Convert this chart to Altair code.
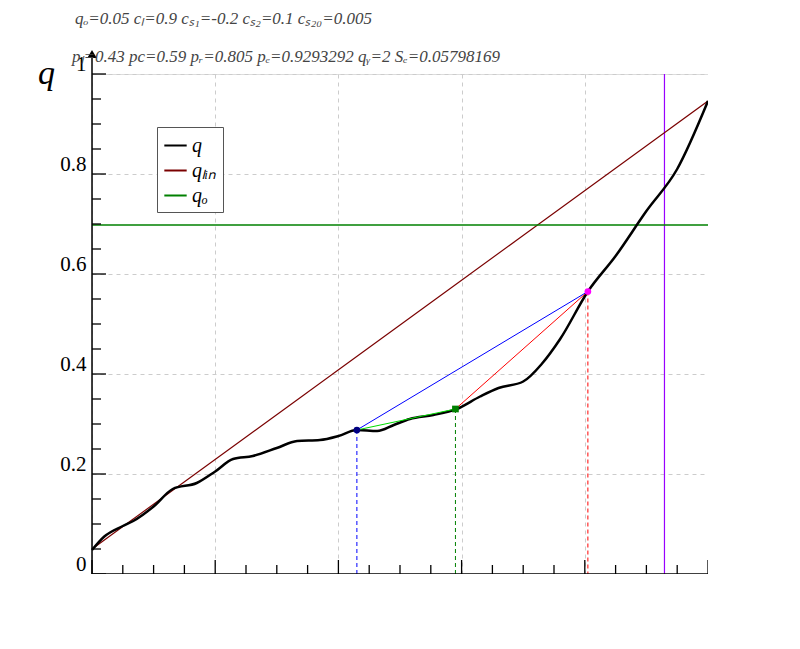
import pandas as pd
import altair as alt

FONT = "Liberation Serif"

# black curve q(p)
p_vals = [0.0, 0.02, 0.05, 0.067, 0.1, 0.131, 0.17, 0.2, 0.229, 0.261, 0.3, 0.333, 0.37,
          0.4, 0.43, 0.463, 0.49, 0.516, 0.554, 0.592, 0.63, 0.66, 0.7, 0.73, 0.76,
          0.805, 0.85, 0.9, 0.95, 1.0]
q_vals = [0.048, 0.075, 0.096, 0.106, 0.135, 0.17, 0.182, 0.205, 0.23, 0.236, 0.252, 0.266, 0.268,
          0.276, 0.288, 0.286, 0.298, 0.31, 0.318, 0.33, 0.355, 0.372, 0.385, 0.42, 0.47,
          0.565, 0.636, 0.726, 0.81, 0.946]

q_lin = [0.05, 0.946]
q_o = 0.698
pl, pc, pr, pe = 0.43, 0.59, 0.805, 0.9293292
ql, qc, qr = 0.288, 0.33, 0.565

major_ticks = [0, 0.2, 0.4, 0.6, 0.8, 1.0]
minor_ticks = [i * 0.05 for i in range(21) if i % 4 != 0]

line1 = "qₒ=0.05 cₗ=0.9 cₛ₁=-0.2 cₛ₂=0.1 cₛ₂₀=0.005"
line2 = "pₗ=0.43 pc=0.59 pᵣ=0.805 pₑ=0.9293292 qᵧ=2 Sₑ=0.05798169"

W, H = 616, 500
xs = alt.Scale(domain=[0, 1], nice=False)
ys = alt.Scale(domain=[0, 1], nice=False)
names = ["q", "qₗᵢₙ", "qₒ"]
cs = alt.Scale(domain=names, range=["black", "#7a0000", "green"])

curve = pd.DataFrame({"p": p_vals, "q": q_vals, "s": "q"})
lin = pd.DataFrame({"p": [0, 1], "q": q_lin, "s": names[1]})
qo = pd.DataFrame({"p": [0, 1], "q": [q_o, q_o], "s": names[2]})

base = alt.Chart(pd.DataFrame({"p": [0]}))

xaxis = alt.Axis(values=major_ticks, format="~g", grid=True, gridDash=[4, 4], gridColor="#ccc",
                 ticks=False, domain=False, labelFont=FONT, labelFontSize=21, labelPadding=2)
yaxis = alt.Axis(values=major_ticks, format="~g", grid=True, gridDash=[4, 4], gridColor="#ccc",
                 ticks=False, domain=False, labelFont=FONT, labelFontSize=21, labelPadding=6,
                 labelBaseline="bottom")

grid = alt.Chart(curve).mark_point(opacity=0).encode(
    x=alt.X("p:Q", scale=xs, axis=xaxis, title=None),
    y=alt.Y("q:Q", scale=ys, axis=yaxis, title=None))

leg = alt.Legend(title=None, orient="none", legendX=65, legendY=53, symbolType="stroke",
                 symbolSize=500, symbolStrokeWidth=2, labelFont=FONT, labelFontSize=20,
                 labelFontStyle="italic", strokeColor="#555", padding=6, fillColor="white",
                 rowPadding=2)

lines = alt.layer(
    alt.Chart(lin).mark_line(strokeWidth=1.2),
    alt.Chart(qo).mark_line(strokeWidth=1.5),
    alt.Chart(curve).mark_line(strokeWidth=2.5, interpolate="monotone"),
).encode(x=alt.X("p:Q", scale=xs), y=alt.Y("q:Q", scale=ys),
         color=alt.Color("s:N", scale=cs, legend=leg))

def seg(p1, q1, p2, q2, color):
    return alt.Chart(pd.DataFrame({"p": [p1, p2], "q": [q1, q2]})).mark_line(
        color=color, strokeWidth=1).encode(x=alt.X("p:Q", scale=xs), y=alt.Y("q:Q", scale=ys))

chords = seg(pl, ql, pr, qr, "blue") + seg(pl, ql, pc, qc, "#00dd00") + seg(pc, qc, pr, qr, "red")

drops = alt.Chart(pd.DataFrame({"p": [pl, pc, pr], "q": [ql, qc, qr],
                                "c": ["blue", "green", "red"]})).mark_rule(
    strokeDash=[4, 3], strokeWidth=1).encode(
    x=alt.X("p:Q", scale=xs), y=alt.Y("q:Q", scale=ys), y2=alt.datum(0),
    color=alt.Color("c:N", scale=None))

dots = alt.Chart(pd.DataFrame({"p": [pl, pc, pr], "q": [ql, qc, qr],
                               "c": ["#000080", "green", "magenta"],
                               "sh": ["circle", "square", "circle"]})).mark_point(
    filled=True, size=45, opacity=1).encode(
    x=alt.X("p:Q", scale=xs), y=alt.Y("q:Q", scale=ys),
    color=alt.Color("c:N", scale=None), shape=alt.Shape("sh:N", scale=None))

pe_line = alt.Chart(pd.DataFrame({"p": [pe]})).mark_rule(color="#9900ff", strokeWidth=1.2).encode(
    x=alt.X("p:Q", scale=xs), y=alt.value(0), y2=alt.value(532))

def ticks(vals, length):
    d = pd.DataFrame({"t": vals})
    xt = alt.Chart(d).mark_rule(color="black", strokeWidth=1.3).encode(
        x=alt.X("t:Q", scale=xs), y=alt.value(H), y2=alt.value(H - length))
    yt = alt.Chart(d).mark_rule(color="black", strokeWidth=1.3).encode(
        y=alt.Y("t:Q", scale=ys), x=alt.value(0), x2=alt.value(length))
    return xt + yt

axes = alt.layer(
    base.mark_rule(color="black", strokeWidth=1.5).encode(x=alt.value(0), x2=alt.value(642), y=alt.value(H)),
    base.mark_rule(color="black", strokeWidth=1.5).encode(x=alt.value(0), y=alt.value(-22), y2=alt.value(H)),
    base.mark_point(shape="triangle-right", filled=True, color="black", size=90, opacity=1).encode(
        x=alt.value(642), y=alt.value(H)),
    base.mark_point(shape="triangle-up", filled=True, color="black", size=90, opacity=1).encode(
        x=alt.value(0), y=alt.value(-20)),
)

def label(txt, x, y, size=26, style="italic", color="black"):
    return base.mark_text(text=txt, font=FONT, fontSize=size, fontStyle=style, color=color,
                          align="left", baseline="alphabetic").encode(x=alt.value(x), y=alt.value(y))

texts = alt.layer(
    label(line1, -17, -50, size=17, color="#444"),
    label(line2, -20, -12, size=17, color="#444"),
    label("q", -54, 10, size=34),
    label("p", 263, 540), label("l", 277, 545, size=17),
    label("p", 360, 540), label("c", 375, 545, size=17),
    label("p", 493, 540), label("r", 508, 545, size=17),
    label("p", 571, 566), label("e", 586, 571, size=17),
    label("p", 596, 566, size=32),
)

chart = alt.layer(grid, pe_line, lines, chords, drops, dots, ticks(major_ticks, 14),
                  ticks(minor_ticks, 9), axes, texts).properties(
    width=W, height=H, autosize=alt.AutoSizeParams(type="none"),
    padding={"left": 84, "top": 66, "right": 0, "bottom": 0},
).configure_view(stroke="black", strokeWidth=1.5).configure(background="white")

chart.save("out.html", embed_options={"renderer": "svg", "actions": False})
